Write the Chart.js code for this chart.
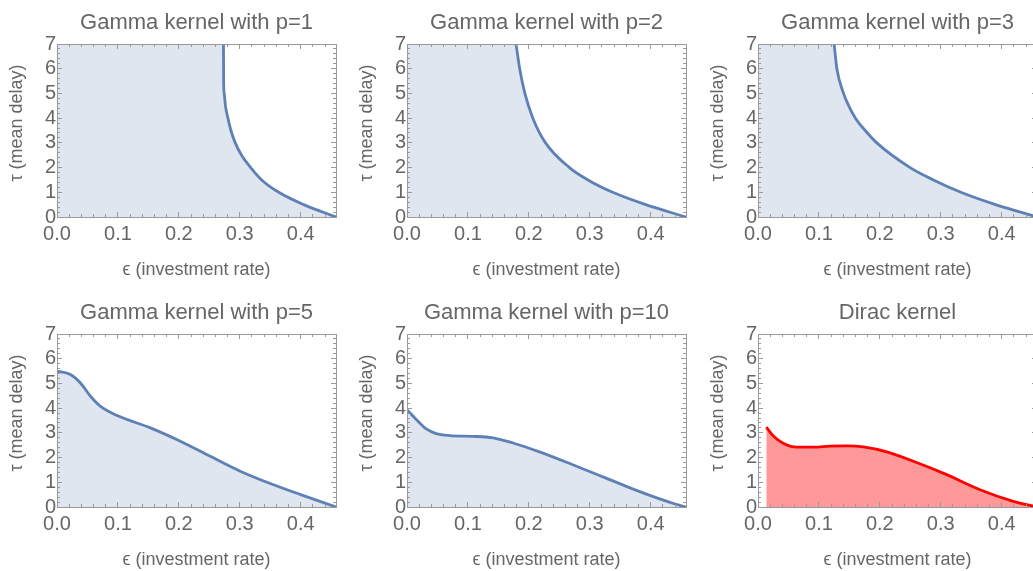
<!DOCTYPE html>
<html>
<head>
<meta charset="utf-8">
<script src="https://cdn.jsdelivr.net/npm/chart.js@4.4.1/dist/chart.umd.min.js"></script>
<style>
  html, body { margin: 0; padding: 0; background: #fff; overflow: hidden; }
  #wrap { position: relative; width: 1033px; height: 571px; overflow: hidden; }
  .panel { position: absolute; }
</style>
</head>
<body>
<div id="wrap">
  <div class="panel" style="left:0px;top:0px"><canvas id="c1" width="351" height="290"></canvas></div>
  <div class="panel" style="left:350px;top:0px"><canvas id="c2" width="351" height="290"></canvas></div>
  <div class="panel" style="left:701px;top:0px"><canvas id="c3" width="351" height="290"></canvas></div>
  <div class="panel" style="left:0px;top:290px"><canvas id="c4" width="351" height="290"></canvas></div>
  <div class="panel" style="left:350px;top:290px"><canvas id="c5" width="351" height="290"></canvas></div>
  <div class="panel" style="left:701px;top:290px"><canvas id="c6" width="351" height="290"></canvas></div>
</div>
<script>
// stability boundary tau(eps)
const titles = ['Gamma kernel with p=1', 'Gamma kernel with p=2', 'Gamma kernel with p=3',
                'Gamma kernel with p=5', 'Gamma kernel with p=10', 'Dirac kernel']

const epsP1 = [0.2733, 0.2736, 0.2745, 0.2765, 0.2806, 0.2855, 0.2926, 0.3030, 0.3180, 0.3360, 0.3640, 0.4050, 0.4580]
const tauP1 = [7.00, 5.40, 5.00, 4.50, 4.00, 3.50, 3.00, 2.50, 2.00, 1.50, 1.00, 0.50, 0.00]

const epsP2 = [0.179, 0.185, 0.1935, 0.2066, 0.2274, 0.2667, 0.2970, 0.3377, 0.3920, 0.4580]
const tauP2 = [7.00, 6.00, 5.00, 4.00, 3.00, 2.00, 1.50, 1.00, 0.50, 0.00]

const epsP3 = [0.125, 0.1295, 0.1404, 0.1490, 0.1600, 0.1760, 0.1950, 0.2497, 0.2880, 0.3330, 0.3900, 0.4580]
const tauP3 = [7.00, 6.00, 5.00, 4.50, 4.00, 3.50, 3.00, 2.00, 1.50, 1.00, 0.50, 0.00]

const epsP5 = [0.000, 0.022, 0.0385, 0.055, 0.071, 0.0987, 0.1533, 0.2025, 0.2516, 0.3008, 0.350, 0.400, 0.458]
const tauP5 = [5.50, 5.36, 5.02, 4.48, 4.08, 3.70, 3.20, 2.66, 2.05, 1.45, 0.95, 0.50, 0.00]

const epsP10 = [0.000, 0.0153, 0.0317, 0.048, 0.070, 0.108, 0.141, 0.174, 0.2175, 0.2721, 0.3268, 0.381, 0.440, 0.458]
const tauP10 = [3.94, 3.54, 3.16, 2.97, 2.89, 2.86, 2.80, 2.59, 2.23, 1.71, 1.17, 0.63, 0.12, 0.00]

const epsDirac = [0.0136, 0.0256, 0.042, 0.0639, 0.0912, 0.1185, 0.1458, 0.173, 0.2114, 0.255, 0.3098, 0.3644, 0.419, 0.458]
const tauDirac = [3.23, 2.86, 2.57, 2.42, 2.42, 2.46, 2.47, 2.43, 2.23, 1.85, 1.31, 0.70, 0.23, 0.00]

const xMajor = [0, 0.1, 0.2, 0.3, 0.4]
const yMajor = [0, 1, 2, 3, 4, 5, 6, 7]
const epsMax = 0.458
const tauMax = 7

const xMinor = []
for (let i = 0; i <= 22; i++) xMinor.push(i * 0.02)
const yMinor = []
for (let i = 0; i <= 35; i++) yMinor.push(i * 0.2)

const blue = '#5e81b5'
const blueFill = 'rgba(94,129,181,0.2)'
const red = '#ff0000'
const redFill = 'rgba(255,0,0,0.4)'
const frame = '#9a9a9a'
const ink = '#666666'
const family = '"Liberation Sans", Arial, sans-serif'

const panels = [
  {id: 'c1', eps: epsP1, tau: tauP1, open: true, line: blue, fill: blueFill},
  {id: 'c2', eps: epsP2, tau: tauP2, open: true, line: blue, fill: blueFill},
  {id: 'c3', eps: epsP3, tau: tauP3, open: true, line: blue, fill: blueFill},
  {id: 'c4', eps: epsP5, tau: tauP5, open: false, line: blue, fill: blueFill},
  {id: 'c5', eps: epsP10, tau: tauP10, open: false, line: blue, fill: blueFill},
  {id: 'c6', eps: epsDirac, tau: tauDirac, open: false, line: red, fill: redFill}
]

// one side of the frame: major (labelled, longer ticks) or minor ticks, all drawn inward
function side(pos, major, size) {
  const horiz = pos === 'top' || pos === 'bottom'
  const values = horiz ? (major ? xMajor : xMinor) : (major ? yMajor : yMinor)
  const labelled = major && (pos === 'bottom' || pos === 'left')
  return {
    type: 'linear',
    display: true,
    position: pos,
    min: 0,
    max: horiz ? epsMax : tauMax,
    bounds: 'data',
    weight: major ? 1 : 0,
    grid: {display: true, drawOnChartArea: false, drawTicks: true, tickLength: major ? -5 : -3,
           color: frame, lineWidth: 1, z: 1},
    border: {display: major, color: frame, width: 1, z: 1},
    ticks: {
      display: labelled,
      autoSkip: false,
      maxRotation: 0,
      color: ink,
      font: {family: family, size: 20},
      padding: horiz ? 10 : 6,
      callback: v => horiz ? v.toFixed(1) : String(v)
    },
    title: {
      display: labelled,
      // leading spaces nudge the rotated label up, as in the original
      text: horiz ? 'ϵ (investment rate)' : '\u00a0\u00a0\u00a0τ (mean delay)',
      color: ink,
      font: {family: family, size: 18},
      padding: horiz ? {top: 0, bottom: 9} : {top: 6, bottom: 0}
    },
    afterBuildTicks: s => { s.ticks = values.map(v => ({value: v})) },
    afterFit: s => {
      if (horiz) s.height = size
      else s.width = size
    }
  }
}

panels.forEach((p, i) => {
  const curve = p.eps.map((e, k) => ({x: e, y: p.tau[k]}))
  const region = p.open ? [{x: 0, y: tauMax}].concat(curve) : curve
  new Chart(document.getElementById(p.id), {
    type: 'line',
    data: {
      datasets: [
        {data: curve, borderColor: p.line, borderWidth: 2.8, pointRadius: 0, fill: false,
         cubicInterpolationMode: 'monotone'},
        {data: region, borderWidth: 0, pointRadius: 0, backgroundColor: p.fill, fill: 'origin',
         cubicInterpolationMode: 'monotone'}
      ]
    },
    options: {
      responsive: false,
      animation: false,
      events: [],
      layout: {padding: {left: 0, right: 15, top: 0, bottom: 0}},
      plugins: {
        legend: {display: false},
        tooltip: {enabled: false},
        title: {
          display: true, text: titles[i], color: ink, fullSize: false,
          font: {family: family, size: 22, weight: 'normal'},
          padding: {top: 10, bottom: 7.6}
        }
      },
      scales: {
        x: side('bottom', true, 73),
        xm: side('bottom', false, 0),
        xt: side('top', true, 0),
        xtm: side('top', false, 0),
        y: side('left', true, 57),
        ym: side('left', false, 0),
        yr: side('right', true, 0),
        yrm: side('right', false, 0)
      }
    }
  })
})
</script>
</body>
</html>
